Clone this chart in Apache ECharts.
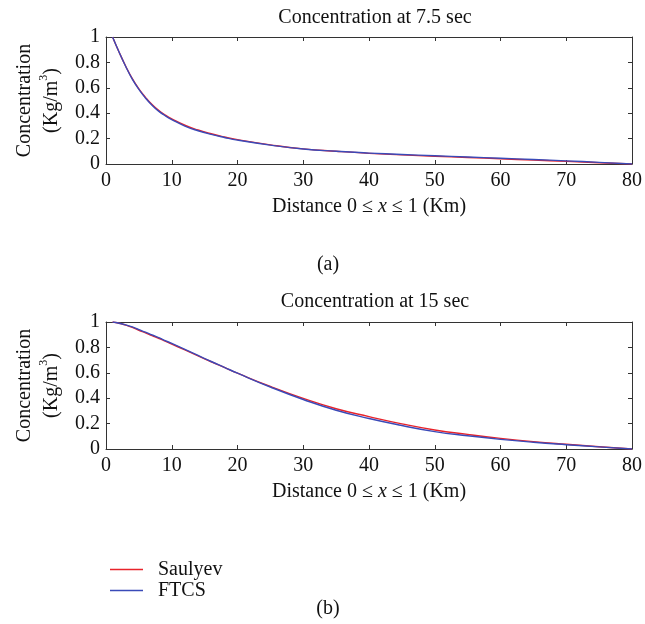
<!DOCTYPE html>
<html>
<head>
<meta charset="utf-8">
<script src="https://cdn.jsdelivr.net/npm/echarts@6/dist/echarts.min.js"></script>
<style>
html,body{margin:0;padding:0;background:#fff;}
#chart{width:645px;height:624px;}
</style>
</head>
<body>
<div id="chart"></div>
<script>
// ---- data ----
const xValues = [1,2,3,4,5,6,7,8,9,10,12,14,16,18,20,25,30,35,40,45,50,55,60,65,70,75,80];
const saulyevA = [1,0.88,0.77,0.672,0.592,0.525,0.468,0.422,0.386,0.356,0.305,0.268,0.238,0.213,0.192,0.151,0.119,0.1,0.084,0.072,0.061,0.051,0.041,0.031,0.021,0.01,0];
const ftcsA    = [1,0.88,0.768,0.668,0.587,0.52,0.463,0.416,0.38,0.35,0.299,0.262,0.233,0.209,0.188,0.149,0.118,0.1,0.086,0.075,0.065,0.055,0.045,0.035,0.025,0.013,0];
const saulyevB = [1,0.99,0.975,0.958,0.935,0.915,0.893,0.872,0.849,0.826,0.78,0.733,0.687,0.642,0.597,0.492,0.398,0.317,0.255,0.198,0.15,0.115,0.084,0.058,0.037,0.018,0];
const ftcsB    = [1,0.99,0.977,0.961,0.94,0.92,0.898,0.877,0.854,0.831,0.784,0.737,0.689,0.643,0.597,0.488,0.39,0.305,0.24,0.185,0.137,0.104,0.076,0.053,0.034,0.017,0];
const xTicks = {min:0, max:80, interval:10};
const yTicks = {min:0, max:1, interval:0.2};
const titleA = 'Concentration at 7.5 sec';
const titleB = 'Concentration at 15 sec';
const xName = 'Distance 0 \u2264 {i|x} \u2264 1 (Km)';
const seriesNames = ['Saulyev','FTCS'];

// ---- styles ----
const FONT = '"Liberation Serif", "DejaVu Serif", serif';
const FS = 20;
const TXT = '#111';
const AXC = '#333';
const RED = '#e8232b';
const BLUE = '#3a4ab8';

function pairs(xs, ys){ return xs.map((x,i)=>[x, ys[i]]); }

function xAxisPair(gi){
  return [
    { gridIndex: gi, type:'value', position:'bottom', min:xTicks.min, max:xTicks.max, interval:xTicks.interval,
      axisLine:{show:true, onZero:false, lineStyle:{color:AXC, width:1}},
      axisTick:{show:true, inside:true, length:4, lineStyle:{color:AXC}},
      axisLabel:{show:true, margin:7, color:TXT, fontFamily:FONT, fontSize:FS},
      splitLine:{show:false},
      name: xName, nameLocation:'middle', nameGap:33,
      nameTextStyle:{color:TXT, fontFamily:FONT, fontSize:FS,
        rich:{i:{fontStyle:'italic', fontFamily:FONT, fontSize:FS, color:TXT}}}
    },
    { gridIndex: gi, type:'value', position:'top', min:xTicks.min, max:xTicks.max, interval:xTicks.interval,
      axisLine:{show:true, onZero:false, lineStyle:{color:AXC, width:1}},
      axisTick:{show:true, inside:true, length:4, lineStyle:{color:AXC}},
      axisLabel:{show:false}, splitLine:{show:false}
    }
  ];
}
function yAxisPair(gi){
  return [
    { gridIndex: gi, type:'value', position:'left', min:yTicks.min, max:yTicks.max, interval:yTicks.interval,
      axisLine:{show:true, onZero:false, lineStyle:{color:AXC, width:1}},
      axisTick:{show:true, inside:true, length:4, lineStyle:{color:AXC}},
      axisLabel:{show:true, margin:6, color:TXT, fontFamily:FONT, fontSize:FS},
      splitLine:{show:false},
      name:'{n|Concentration}\n{n|(Kg/m}{s|3}{n|)}', nameLocation:'middle', nameGap:41, nameRotate:90,
      nameTextStyle:{color:TXT, fontFamily:FONT, fontSize:FS, align:'center',
        rich:{
          n:{fontFamily:FONT, fontSize:FS, color:TXT, lineHeight:27},
          s:{fontFamily:FONT, fontSize:12, color:TXT, verticalAlign:'top', lineHeight:27}
        }}
    },
    { gridIndex: gi, type:'value', position:'right', min:yTicks.min, max:yTicks.max, interval:yTicks.interval,
      axisLine:{show:true, onZero:false, lineStyle:{color:AXC, width:1}},
      axisTick:{show:true, inside:true, length:4, lineStyle:{color:AXC}},
      axisLabel:{show:false}, splitLine:{show:false}
    }
  ];
}
function line(name, data, color, xi, yi){
  return { name, type:'line', data, xAxisIndex:xi, yAxisIndex:yi, smooth:true, symbol:'none',
    lineStyle:{color, width:1.4}, itemStyle:{color}, clip:true };
}

const chart = echarts.init(document.getElementById('chart'), null, {renderer:'canvas'});
const tStyle = {fontFamily:FONT, fontSize:FS, fontWeight:'normal', color:TXT};
chart.setOption({
  animation:false,
  backgroundColor:'#fff',
  title:[
    {text:titleA, left:370, top:3, textAlign:'center', textStyle:tStyle},
    {text:'(a)', left:323, top:250, textAlign:'center', textStyle:tStyle},
    {text:titleB, left:370, top:287, textAlign:'center', textStyle:tStyle},
    {text:'(b)', left:323, top:594, textAlign:'center', textStyle:tStyle}
  ],
  legend:{
    data:seriesNames, orient:'vertical', left:105, top:554, icon:'rect', itemWidth:33, itemHeight:1.5, itemGap:0,
    textStyle:{fontFamily:FONT, fontSize:FS, color:TXT, padding:[0,0,0,10], lineHeight:21}
  },
  grid:[
    {left:106, top:37, width:529, height:127, containLabel:false},
    {left:106, top:322, width:529, height:127, containLabel:false}
  ],
  xAxis:[...xAxisPair(0), ...xAxisPair(1)],
  yAxis:[...yAxisPair(0), ...yAxisPair(1)],
  series:[
    line(seriesNames[0], pairs(xValues, saulyevA), RED, 0, 0),
    line(seriesNames[1], pairs(xValues, ftcsA), BLUE, 0, 0),
    line(seriesNames[0], pairs(xValues, saulyevB), RED, 2, 2),
    line(seriesNames[1], pairs(xValues, ftcsB), BLUE, 2, 2)
  ]
});
</script>
</body>
</html>
